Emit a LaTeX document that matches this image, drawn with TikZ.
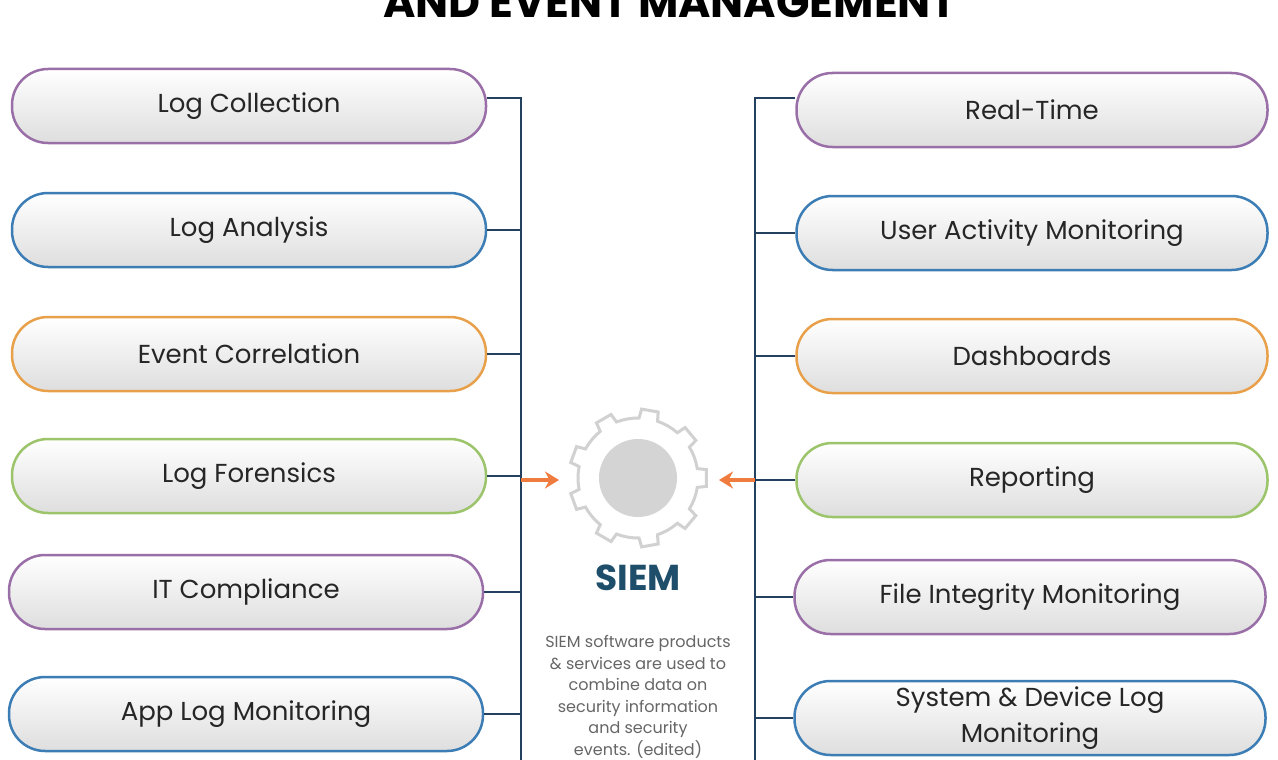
\documentclass[tikz,border=0pt]{standalone}
\usepackage{fontspec}
\setmainfont{Poppins}
\usetikzlibrary{arrows.meta}
\definecolor{cpur}{HTML}{9A6FA8}
\definecolor{cblu}{HTML}{3C7DB5}
\definecolor{cora}{HTML}{E8A04A}
\definecolor{cgre}{HTML}{9CC46A}
\definecolor{cline}{HTML}{23405F}
\definecolor{carr}{HTML}{F07B3F}
\definecolor{csiem}{HTML}{1F4E6B}
\tikzset{
 pill/.style={draw=#1, line width=2.5pt, rounded corners=36pt, minimum width=474pt, minimum height=74pt,
   top color=white, bottom color=black!13, text=black!85, font=\fontsize{26}{36}\selectfont, align=center, inner sep=0pt},
 conn/.style={draw=cline, line width=2.5pt},
 arr/.style={draw=carr, line width=3.5pt, -{Stealth[length=14pt,width=17pt]}},
}
\begin{document}
\begin{tikzpicture}[x=1pt,y=-1pt]
\useasboundingbox (0,0) rectangle (1278,760);
\clip (0,0) rectangle (1278,760);
\fill[white] (0,0) rectangle (1278,760);
\node[font=\bfseries\fontsize{44}{48}\selectfont] (title) at (670,2) {AND EVENT MANAGEMENT};
% left
\node[pill=cpur] (l1) at (249,106) {Log Collection};
\node[pill=cblu] (l2) at (249,230) {Log Analysis};
\node[pill=cora] (l3) at (249,354) {Event Correlation};
\node[pill=cgre] (l4) at (249,476) {Log Forensics};
\node[pill=cpur] (l5) at (246,592) {IT Compliance};
\node[pill=cblu] (l6) at (246,714) {App Log Monitoring};
% right
\node[pill=cpur, minimum width=471pt] (r1) at (1032,110) {Real-Time};
\node[pill=cblu, minimum width=471pt] (r2) at (1032,233) {User Activity Monitoring};
\node[pill=cora, minimum width=471pt] (r3) at (1032,356) {Dashboards};
\node[pill=cgre, minimum width=471pt] (r4) at (1032,480) {Reporting};
\node[pill=cpur, minimum width=471pt] (r5) at (1030,597) {File Integrity Monitoring};
\node[pill=cblu, minimum width=471pt] (r6) at (1030,718) {System \& Device Log\\Monitoring};
\coordinate (lt) at (521,98); \coordinate (lb) at (521,770);
\coordinate (rt) at (755,98); \coordinate (rb) at (755,770);
\draw[conn] (l1.east |- lt) -- (lt) -- (lb);
\draw[conn] (r1.west |- rt) -- (rt) -- (rb);
\foreach \n in {l2,l3,l4,l5,l6} \draw[conn] (\n.east) -- (\n.east -| lt);
\foreach \n in {r2,r3,r4,r5,r6} \draw[conn] (\n.west) -- (\n.west -| rt);
\coordinate (al) at (559,480); \coordinate (ar) at (719,480);
\draw[arr] (521,480) -- (al);
\draw[arr] (755,480) -- (ar);
\begin{scope}[shift={(638,478)}, y=1pt]
 \draw[black!18, line width=3pt, fill=white]
  (-9:60) \foreach \a in {0,40,...,320} { -- ({\a-7}:69) -- ({\a+7}:69) -- ({\a+9}:60) arc[start angle=\a+9, end angle=\a+31, radius=60] } -- cycle;
 \fill[black!17] (0,0) circle (39);
\end{scope}
\node[text=csiem, font=\fontsize{36}{40}\selectfont\bfseries] (siem) at (638,578) {SIEM};
\node[text=black!60, font=\fontsize{16}{21.5}\selectfont, align=center] (desc) at (638,697) {SIEM software products\\ \& services are used to\\ combine data on\\ security information\\ and security\\ events. (edited)};
\end{tikzpicture}
\end{document}
